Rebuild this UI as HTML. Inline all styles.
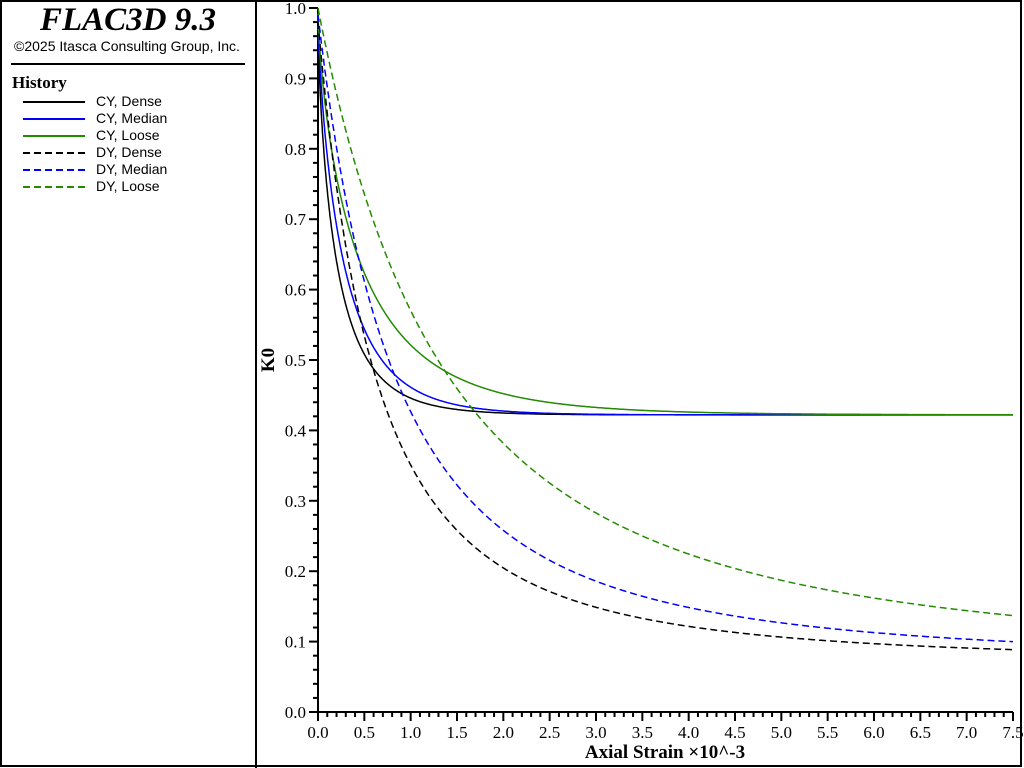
<!DOCTYPE html>
<html><head><meta charset="utf-8"><style>
body{margin:0;background:#fff;width:1024px;height:768px;overflow:hidden}
svg{display:block}
text{font-family:"Liberation Serif",serif}
text.s{font-family:"Liberation Sans",sans-serif}
</style></head><body>
<svg id="s" width="1024" height="768" xmlns="http://www.w3.org/2000/svg">
<rect x="1" y="1" width="1020" height="765" fill="none" stroke="#000" stroke-width="2"/>
<line x1="256" y1="0" x2="256" y2="768" stroke="#000" stroke-width="2"/>
<text x="128" y="30" text-anchor="middle" font-size="33" font-weight="bold" font-style="italic">FLAC3D 9.3</text>
<text class="s" x="127" y="51" text-anchor="middle" font-size="14">©2025 Itasca Consulting Group, Inc.</text>
<line x1="11" y1="64" x2="245" y2="64" stroke="#000" stroke-width="2"/>
<text x="12" y="88" font-size="17" font-weight="bold">History</text>
<g font-size="14">
<line x1="23" y1="102" x2="85" y2="102" stroke="#000" stroke-width="2"/><text class="s" x="96" y="106">CY, Dense</text>
<line x1="23" y1="119" x2="85" y2="119" stroke="#0000ff" stroke-width="2"/><text class="s" x="96" y="123">CY, Median</text>
<line x1="23" y1="136" x2="85" y2="136" stroke="#228b00" stroke-width="2"/><text class="s" x="96" y="140">CY, Loose</text>
<line x1="23" y1="153" x2="85" y2="153" stroke="#000" stroke-width="2" stroke-dasharray="7,4"/><text class="s" x="96" y="157">DY, Dense</text>
<line x1="23" y1="170" x2="85" y2="170" stroke="#0000ff" stroke-width="2" stroke-dasharray="7,4"/><text class="s" x="96" y="174">DY, Median</text>
<line x1="23" y1="187" x2="85" y2="187" stroke="#228b00" stroke-width="2" stroke-dasharray="7,4"/><text class="s" x="96" y="191">DY, Loose</text>
</g>
<g id="ax" stroke="#000" stroke-width="2"></g>
<g id="lab" font-size="17"></g>
<g id="cur" fill="none" stroke-width="1.5"></g>
<text x="274" y="360" font-size="19" font-weight="bold" text-anchor="middle" transform="rotate(-90 274 360)">K0</text>
<text x="665" y="758" font-size="19" font-weight="bold" text-anchor="middle">Axial Strain ×10^-3</text>
</svg>
<script>
var X0=318,X1=1013,Y0=712,Y1=8;
function px(e){return X0+(X1-X0)*e/7.5}
function py(k){return Y0-(Y0-Y1)*k}
var ax=document.getElementById('ax'),lab=document.getElementById('lab'),cur=document.getElementById('cur'),h='',l='';
h+='<line x1="'+X0+'" y1="'+Y1+'" x2="'+X0+'" y2="'+Y0+'"/><line x1="'+X0+'" y1="'+Y0+'" x2="'+X1+'" y2="'+Y0+'"/>';
for(var i=0;i<=75;i++){var x=px(i/10),m=i%5==0;h+='<line x1="'+x+'" y1="'+Y0+'" x2="'+x+'" y2="'+(Y0+(m?9:5))+'"/>';if(m)l+='<text x="'+x+'" y="738" text-anchor="middle">'+(i/10).toFixed(1)+'</text>';}
for(var i=0;i<=50;i++){var y=py(i/50),m=i%5==0;h+='<line x1="'+(X0-(m?9:5))+'" y1="'+y+'" x2="'+X0+'" y2="'+y+'"/>';if(m)l+='<text x="306" y="'+(y+6)+'" text-anchor="end">'+(i/50).toFixed(1)+'</text>';}
ax.innerHTML=h;lab.innerHTML=l;
function path(f,col,dash){var d='';for(var i=0;i<=1500;i++){var e=i/200;d+=(i?'L':'M')+px(e).toFixed(1)+','+py(f(e)).toFixed(1);}
return '<path d="'+d+'" stroke="'+col+'"'+(dash?' stroke-dasharray="7,4"':'')+'/>';}
var c='';
c+=path(function(e){return 0.422+0.55*Math.exp(-Math.pow(e/0.222,0.76))},'#000');
c+=path(function(e){return 0.422+0.56*Math.exp(-Math.pow(e/0.295,0.8))},'#0000ff');
c+=path(function(e){return 0.422+0.57*Math.exp(-Math.pow(e/0.475,0.75))},'#228b00');
c+=path(function(e){return 0.07+0.91/Math.pow(1+e/1.25,2)},'#000',1);
c+=path(function(e){return 0.07+0.92/Math.pow(1+e/1.65,2)},'#0000ff',1);
c+=path(function(e){return 0.07+0.93/Math.pow(1+e/2.75,2)},'#228b00',1);
cur.innerHTML=c;
</script>
</body></html>
